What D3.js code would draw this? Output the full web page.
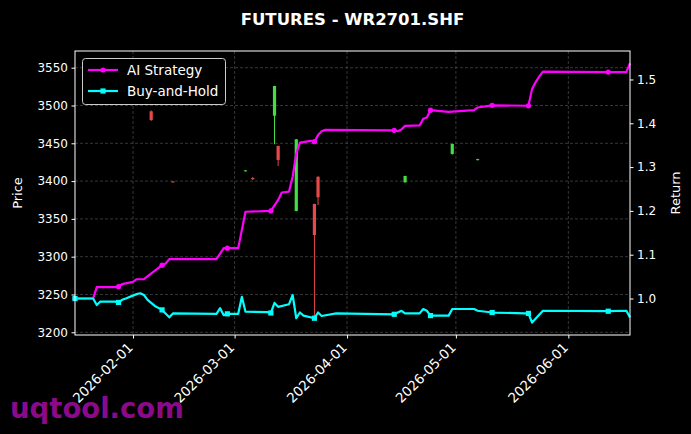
<!DOCTYPE html>
<html>
<head>
<meta charset="utf-8">
<title>FUTURES - WR2701.SHF</title>
<script src="https://cdn.jsdelivr.net/npm/d3@7"></script>
<style>
  body { margin: 0; background: #000; }
  text { font-family: "DejaVu Sans", sans-serif; fill: #fff; }
  .grade line { stroke: #5a5a5a; stroke-width: 0.6; stroke-dasharray: 3,2; }
  .eixo path, .eixo line { stroke: #fff; }
  .eixo text { font-size: 12px; }
  .eixo.datas text { font-size: 13.5px; }
</style>
</head>
<body>
<div id="grafico"></div>
<script>
"use strict"

// curva da estrategia (retorno acumulado)
var aiDatas = ["2026-01-16","2026-01-21","2026-01-22","2026-01-27","2026-01-28","2026-01-29","2026-02-01","2026-02-02","2026-02-04","2026-02-09","2026-02-10","2026-02-11","2026-02-24","2026-02-26","2026-02-27","2026-03-02","2026-03-04","2026-03-11","2026-03-13","2026-03-14","2026-03-16","2026-03-17","2026-03-18","2026-03-19","2026-03-22","2026-03-23","2026-03-24","2026-03-25","2026-03-26","2026-04-14","2026-04-15","2026-04-16","2026-04-17","2026-04-21","2026-04-22","2026-04-23","2026-04-24","2026-04-29","2026-05-06","2026-05-07","2026-05-11","2026-05-21","2026-05-22","2026-05-23","2026-05-24","2026-05-25","2026-06-12","2026-06-17","2026-06-18"];
var aiValores = [1.000,1.000,1.026,1.026,1.027,1.033,1.038,1.044,1.044,1.076,1.080,1.090,1.090,1.115,1.115,1.115,1.198,1.200,1.225,1.242,1.244,1.278,1.331,1.356,1.360,1.358,1.373,1.382,1.385,1.384,1.382,1.386,1.394,1.395,1.410,1.413,1.430,1.426,1.430,1.436,1.441,1.440,1.478,1.494,1.507,1.518,1.517,1.517,1.537];

// buy and hold
var bhDatas = ["2026-01-16","2026-01-21","2026-01-22","2026-01-23","2026-01-27","2026-01-28","2026-01-29","2026-01-30","2026-02-02","2026-02-03","2026-02-04","2026-02-05","2026-02-07","2026-02-09","2026-02-11","2026-02-12","2026-02-24","2026-02-25","2026-02-26","2026-02-27","2026-03-02","2026-03-03","2026-03-04","2026-03-10","2026-03-11","2026-03-12","2026-03-13","2026-03-16","2026-03-17","2026-03-18","2026-03-19","2026-03-20","2026-03-23","2026-03-24","2026-03-25","2026-03-29","2026-04-14","2026-04-16","2026-04-17","2026-04-21","2026-04-22","2026-04-23","2026-04-24","2026-04-29","2026-04-30","2026-05-06","2026-05-07","2026-05-11","2026-05-20","2026-05-21","2026-05-22","2026-05-25","2026-06-12","2026-06-17","2026-06-18"];
var bhValores = [1.000,1.000,0.985,0.993,0.993,0.991,0.997,1.000,1.010,1.012,1.008,0.997,0.983,0.974,0.957,0.966,0.965,0.978,0.962,0.965,0.965,1.004,0.970,0.969,0.967,0.990,0.981,0.987,1.008,0.955,0.968,0.961,0.955,0.968,0.960,0.966,0.964,0.972,0.966,0.966,0.976,0.972,0.961,0.961,0.976,0.976,0.972,0.968,0.966,0.966,0.945,0.972,0.971,0.972,0.957];

// dias com marcador nas duas curvas
var marcadores = ["2026-01-16","2026-01-28","2026-02-09","2026-02-27","2026-03-11","2026-03-23","2026-04-14","2026-04-24","2026-05-11","2026-05-21","2026-06-12"];

// candles (preco)
var velaDatas = ["2026-02-06","2026-02-12","2026-03-04","2026-03-06","2026-03-12","2026-03-13","2026-03-18","2026-03-23","2026-03-24","2026-04-17","2026-04-30","2026-05-07"];
var velaAbre  = [3492.3,3399.5,3413.5,3404.0,3486.5,3446.4,3360.5,3369.7,3405.8,3398.4,3435.9,3428.0];
var velaMax   = [3493.5,3400.0,3414.5,3405.5,3526.0,3447.0,3455.5,3370.0,3406.0,3407.0,3449.5,3429.5];
var velaMin   = [3479.5,3398.5,3413.0,3401.5,3448.7,3420.0,3360.0,3218.5,3368.4,3398.0,3435.0,3427.5];
var velaFecha = [3480.8,3399.0,3414.2,3402.5,3525.8,3428.0,3455.3,3328.7,3378.6,3406.8,3449.1,3429.0];

var ticksPreco = [3200,3250,3300,3350,3400,3450,3500,3550];
var ticksRetorno = [1.0,1.1,1.2,1.3,1.4,1.5];
var ticksDatas = ["2026-02-01","2026-03-01","2026-04-01","2026-05-01","2026-06-01"];

var parse = d3.timeParse("%Y-%m-%d");

var larguraSVG = 691, alturaSVG = 434;
var margin = {top: 51, right: 61, bottom: 99, left: 75},
    esq = margin.left, dir = larguraSVG - margin.right,
    topo = margin.top, base = alturaSVG - margin.bottom;

var x = d3.scaleTime()
          .domain([parse("2026-01-16"), parse("2026-06-18")])
          .range([esq, dir]);
var yPreco = d3.scaleLinear().domain([3196.4, 3572.1]).range([base, topo]);
var yRet = d3.scaleLinear().domain([0.9167, 1.565]).range([base, topo]);

var svg = d3.select('#grafico').append('svg')
    .attr('width', larguraSVG)
    .attr('height', alturaSVG)
    .style('background', '#000');

// grade
var grade = svg.append('g').attr('class', 'grade');
grade.selectAll('.gx').data(ticksDatas).enter().append('line')
    .attr('x1', d => x(parse(d))).attr('x2', d => x(parse(d)))
    .attr('y1', topo).attr('y2', base);
grade.selectAll('.gy').data(ticksPreco).enter().append('line')
    .attr('x1', esq).attr('x2', dir)
    .attr('y1', d => yPreco(d)).attr('y2', d => yPreco(d));

// candles
var velas = velaDatas.map((d, i) => ({data: parse(d), o: velaAbre[i], h: velaMax[i], l: velaMin[i], c: velaFecha[i]}));
var gVelas = svg.append('g');
gVelas.selectAll('.pavio').data(velas).enter().append('line')
    .attr('x1', d => x(d.data)).attr('x2', d => x(d.data))
    .attr('y1', d => yPreco(d.h)).attr('y2', d => yPreco(d.l))
    .attr('stroke', d => d.c >= d.o ? '#44dd44' : '#e84848')
    .attr('stroke-width', 1);
gVelas.selectAll('.corpo').data(velas).enter().append('rect')
    .attr('x', d => x(d.data) - 1.6)
    .attr('width', 3.2)
    .attr('y', d => yPreco(Math.max(d.o, d.c)))
    .attr('height', d => Math.max(1, Math.abs(yPreco(d.o) - yPreco(d.c))))
    .attr('fill', d => d.c >= d.o ? '#44dd44' : '#e84848');

// linhas
var linha = d3.line().x(d => x(d.data)).y(d => yRet(d.v));
var ai = aiDatas.map((d, i) => ({data: parse(d), v: aiValores[i]}));
var bh = bhDatas.map((d, i) => ({data: parse(d), v: bhValores[i]}));

svg.append('path').datum(ai).attr('d', linha)
    .attr('fill', 'none').attr('stroke', '#ff00ff').attr('stroke-width', 2.2)
    .attr('stroke-linejoin', 'round');
svg.append('path').datum(bh).attr('d', linha)
    .attr('fill', 'none').attr('stroke', '#00ffff').attr('stroke-width', 2.2)
    .attr('stroke-linejoin', 'round');

var fmt = d3.timeFormat("%Y-%m-%d");
svg.selectAll('.mAi').data(ai.filter(d => marcadores.includes(fmt(d.data)))).enter()
    .append('circle')
    .attr('cx', d => x(d.data)).attr('cy', d => yRet(d.v)).attr('r', 2.6)
    .attr('fill', '#ff00ff');
svg.selectAll('.mBh').data(bh.filter(d => marcadores.includes(fmt(d.data)))).enter()
    .append('rect')
    .attr('x', d => x(d.data) - 2.6).attr('y', d => yRet(d.v) - 2.6)
    .attr('width', 5.2).attr('height', 5.2)
    .attr('fill', '#00ffff');

// moldura
svg.append('rect').attr('x', esq).attr('y', topo)
    .attr('width', dir - esq).attr('height', base - topo)
    .attr('fill', 'none').attr('stroke', '#fff').attr('stroke-width', 1);

// eixos
svg.append('g').attr('class', 'eixo')
    .attr('transform', 'translate(' + esq + ',0)')
    .call(d3.axisLeft(yPreco).tickValues(ticksPreco).tickFormat(d3.format('d')).tickSize(3.5).tickPadding(3.5));
svg.append('g').attr('class', 'eixo')
    .attr('transform', 'translate(' + dir + ',0)')
    .call(d3.axisRight(yRet).tickValues(ticksRetorno).tickFormat(d3.format('.1f')).tickSize(3.5).tickPadding(3.5));
var eixoX = svg.append('g').attr('class', 'eixo datas')
    .attr('transform', 'translate(0,' + base + ')')
    .call(d3.axisBottom(x).tickValues(ticksDatas.map(parse)).tickFormat(fmt).tickSize(3.5));
eixoX.selectAll('text')
    .attr('text-anchor', 'end')
    .attr('dy', '0.35em')
    .attr('y', 0)
    .attr('transform', 'translate(-3,10) rotate(-45)');
svg.selectAll('.eixo .domain').remove();

// titulos
svg.append('text').attr('x', (esq + dir) / 2).attr('y', 25)
    .attr('text-anchor', 'middle').style('font-size', '16.5px').style('font-weight', 'bold')
    .text('FUTURES - WR2701.SHF');
svg.append('text').attr('transform', 'translate(22,' + (topo + base) / 2 + ') rotate(-90)')
    .attr('text-anchor', 'middle').style('font-size', '13px').text('Price');
svg.append('text').attr('transform', 'translate(680,' + (topo + base) / 2 + ') rotate(-90)')
    .attr('text-anchor', 'middle').style('font-size', '13px').text('Return');

// legenda
var legenda = svg.append('g');
legenda.append('rect').attr('x', 82.5).attr('y', 58.5).attr('width', 143).attr('height', 46)
    .attr('rx', 3).attr('fill', '#000').attr('stroke', '#cccccc').attr('stroke-width', 1);
legenda.append('line').attr('x1', 88).attr('x2', 118).attr('y1', 70).attr('y2', 70)
    .attr('stroke', '#ff00ff').attr('stroke-width', 2.2);
legenda.append('circle').attr('cx', 103).attr('cy', 70).attr('r', 2.6).attr('fill', '#ff00ff');
legenda.append('text').attr('x', 127).attr('y', 75).style('font-size', '13.5px').text('AI Strategy');
legenda.append('line').attr('x1', 88).attr('x2', 118).attr('y1', 91).attr('y2', 91)
    .attr('stroke', '#00ffff').attr('stroke-width', 2.2);
legenda.append('rect').attr('x', 100.4).attr('y', 88.4).attr('width', 5.2).attr('height', 5.2).attr('fill', '#00ffff');
legenda.append('text').attr('x', 127).attr('y', 96).style('font-size', '13.5px').text('Buy-and-Hold');

// marca d'agua
svg.append('text').attr('x', 10).attr('y', 418)
    .style('font-size', '27.5px').style('font-weight', 'bold').style('fill', '#8a0a8a')
    .text('uqtool.com');
</script>
</body>
</html>
